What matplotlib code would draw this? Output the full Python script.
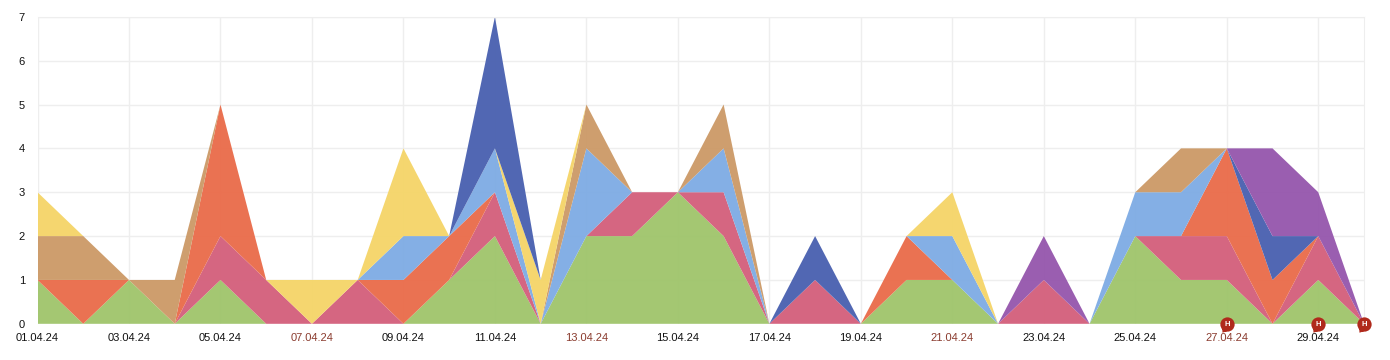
import matplotlib
matplotlib.use("Agg")
import matplotlib.pyplot as plt
from matplotlib.path import Path

plt.rcParams['font.family'] = ['Liberation Sans', 'DejaVu Sans']

days = list(range(1, 31))

# values per day, stacked from bottom to top
green =      [1, 0, 1, 0, 1, 0, 0, 0, 0, 1, 2, 0, 2, 2, 3, 2, 0, 0, 0, 1, 1, 0, 0, 0, 2, 1, 1, 0, 1, 0]
pink =       [0, 0, 0, 0, 1, 1, 0, 1, 0, 0, 1, 0, 0, 1, 0, 1, 0, 1, 0, 0, 0, 0, 1, 0, 0, 1, 1, 0, 1, 0]
orange =     [0, 1, 0, 0, 3, 0, 0, 0, 1, 1, 0, 0, 0, 0, 0, 0, 0, 0, 0, 1, 0, 0, 0, 0, 0, 0, 2, 1, 0, 0]
lightblue =  [0, 0, 0, 0, 0, 0, 0, 0, 1, 0, 1, 0, 2, 0, 0, 1, 0, 0, 0, 0, 1, 0, 0, 0, 1, 1, 0, 0, 0, 0]
tan =        [1, 1, 0, 1, 0, 0, 0, 0, 0, 0, 0, 0, 1, 0, 0, 1, 0, 0, 0, 0, 0, 0, 0, 0, 0, 1, 0, 0, 0, 0]
yellow =     [1, 0, 0, 0, 0, 0, 1, 0, 2, 0, 0, 1, 0, 0, 0, 0, 0, 0, 0, 0, 1, 0, 0, 0, 0, 0, 0, 0, 0, 0]
darkblue =   [0, 0, 0, 0, 0, 0, 0, 0, 0, 0, 3, 0, 0, 0, 0, 0, 0, 1, 0, 0, 0, 0, 0, 0, 0, 0, 0, 1, 0, 0]
purple =     [0, 0, 0, 0, 0, 0, 0, 0, 0, 0, 0, 0, 0, 0, 0, 0, 0, 0, 0, 0, 0, 0, 1, 0, 0, 0, 0, 2, 1, 0]

series = [green, pink, orange, lightblue, tan, yellow, darkblue, purple]
colors = ["#A0C56C", "#D4607C", "#EA6C4B", "#7FACE4", "#CC9A68", "#F5D569", "#4A61B0", "#9657AD"]

tick_days = [1, 3, 5, 7, 9, 11, 13, 15, 17, 19, 21, 23, 25, 27, 29]
tick_labels = ["01.04.24", "03.04.24", "05.04.24", "07.04.24", "09.04.24", "11.04.24", "13.04.24", "15.04.24",
               "17.04.24", "19.04.24", "21.04.24", "23.04.24", "25.04.24", "27.04.24", "29.04.24"]
weekend_days = [7, 13, 21, 27]
holiday_days = [27, 29, 30]

fig = plt.figure(figsize=(13.9, 3.6), dpi=100)
ax = fig.add_axes([37.5 / 1390, 1 - 323.8 / 360, (1364.0 - 37.5) / 1390, (323.8 - 16.8) / 360])

ax.stackplot(days, series, colors=colors, alpha=0.96, linewidth=0, zorder=2)

ax.set_xlim(1, 30)
ax.set_ylim(0, 7)
ax.set_yticks(range(8))
ax.set_xticks(tick_days)
ax.set_xticklabels(tick_labels)
ax.grid(True, color="#EEEEEE", linewidth=1, zorder=0)
ax.set_axisbelow(True)
for name in ["left", "bottom"]:
    ax.spines[name].set_visible(False)
for name in ["top", "right"]:
    ax.spines[name].set_color("#EEEEEE")

ax.tick_params(axis="both", length=0, labelsize=8, colors="#111111")
ax.tick_params(axis="x", pad=6.5)
ax.tick_params(axis="y", pad=9)
for d, lab in zip(tick_days, ax.get_xticklabels()):
    if d in weekend_days:
        lab.set_color("#8A3B2E")

# holiday marker: circle with a little tail at the lower left
circle = Path.circle((0, 0), 1.0)
tail = Path([(-0.75, -0.5), (-0.7, -1.15), (-0.1, -0.95), (-0.75, -0.5)],
            [Path.MOVETO, Path.LINETO, Path.LINETO, Path.CLOSEPOLY])
pin = Path.make_compound_path(circle, tail)

for d in holiday_days:
    ax.scatter([d], [0], s=140, marker=pin, color="#B02A1C", linewidths=0, zorder=5, clip_on=False)
    ax.text(d, 0, "H", color="white", fontsize=5.5, fontweight="bold", ha="center", va="center_baseline",
            zorder=6, clip_on=False)

fig.savefig("out.png", dpi=100)
